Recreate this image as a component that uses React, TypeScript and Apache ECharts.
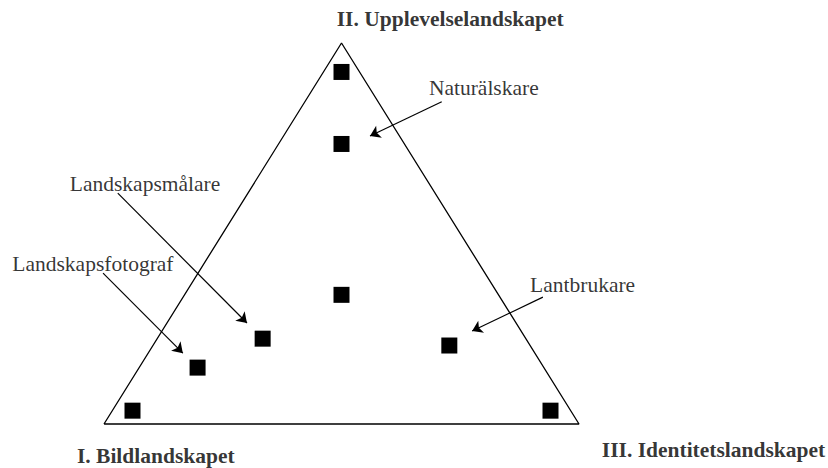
import React, { useEffect, useRef } from "react";
import * as echarts from "echarts";

// Triangle vertices (x: 0..100, y: 0..100)
const triangle: [number, number][] = [[0, 0], [50, 100], [100, 0], [0, 0]];

// Positions of the squares within the triangle
const pointsX = [6.0, 19.7, 33.4, 50.0, 50.0, 50.0, 72.7, 94.0];
const pointsY = [3.5, 14.8, 22.4, 33.9, 73.5, 92.4, 20.6, 3.5];

// Role labels and where their arrows point
const roleNames = ["Naturälskare", "Landskapsmålare", "Landskapsfotograf", "Lantbrukare"];
const roleLabelX = [68.4, -7.2, -19.3, 89.7];
const roleLabelY = [88.2, 63.0, 42.1, 36.5];
const arrowFrom: [number, number][] = [[71.1, 84.6], [2.9, 60.6], [-0.2, 39.6], [92.4, 33.3]];
const arrowTo: [number, number][] = [[56.0, 75.6], [30.1, 26.5], [16.6, 18.6], [77.5, 24.4]];

// Corner titles
const cornerNames = ["I. Bildlandskapet", "II. Upplevelselandskapet", "III. Identitetslandskapet"];
const cornerX = [-5.7, 49.0, 104.8];
const cornerY = [-8.3, 106.2, -6.8];

const FONT = "'Liberation Serif', 'Times New Roman', serif";

export default function App() {
  const ref = useRef<HTMLDivElement>(null);
  useEffect(() => {
    document.body.style.margin = "0";
    const chart = echarts.init(ref.current!, null, { renderer: "svg" });
    chart.setOption({
      animation: false,
      backgroundColor: "#ffffff",
      grid: { left: 104, top: 43, width: 475, height: 381 },
      xAxis: { type: "value", min: 0, max: 100, show: false },
      yAxis: { type: "value", min: 0, max: 100, show: false },
      series: [
        {
          type: "line",
          data: triangle,
          symbol: "none",
          clip: false,
          lineStyle: { color: "#000", width: 1.3 },
        },
        {
          type: "scatter",
          data: pointsX.map((x, i) => [x, pointsY[i]]),
          symbol: "rect",
          symbolSize: 16,
          clip: false,
          itemStyle: { color: "#000", opacity: 1 },
        },
        {
          type: "lines",
          coordinateSystem: "cartesian2d",
          clip: false,
          symbol: ["none", "arrow"],
          symbolSize: 10,
          lineStyle: { color: "#000", width: 1.2, opacity: 1 },
          data: arrowFrom.map((f, i) => ({ coords: [f, arrowTo[i]] })),
        },
        {
          type: "scatter",
          symbolSize: 0,
          clip: false,
          data: roleNames.map((n, i) => ({ name: n, value: [roleLabelX[i], roleLabelY[i]] })),
          label: {
            show: true,
            position: [0, 0],
            align: "left",
            verticalAlign: "middle",
            formatter: "{b}",
            color: "#000",
            fontFamily: FONT,
            fontSize: 21.5,
          },
        },
        {
          type: "scatter",
          symbolSize: 0,
          clip: false,
          data: cornerNames.map((n, i) => ({ name: n, value: [cornerX[i], cornerY[i]] })),
          label: {
            show: true,
            position: [0, 0],
            align: "left",
            verticalAlign: "middle",
            formatter: "{b}",
            color: "#000",
            fontFamily: FONT,
            fontWeight: "bold",
            fontSize: 21.5,
          },
        },
      ],
    });
    return () => chart.dispose();
  }, []);
  return (
    <div
      ref={ref}
      style={{ position: "absolute", left: 0, top: 0, width: 828, height: 468 }}
    />
  );
}
